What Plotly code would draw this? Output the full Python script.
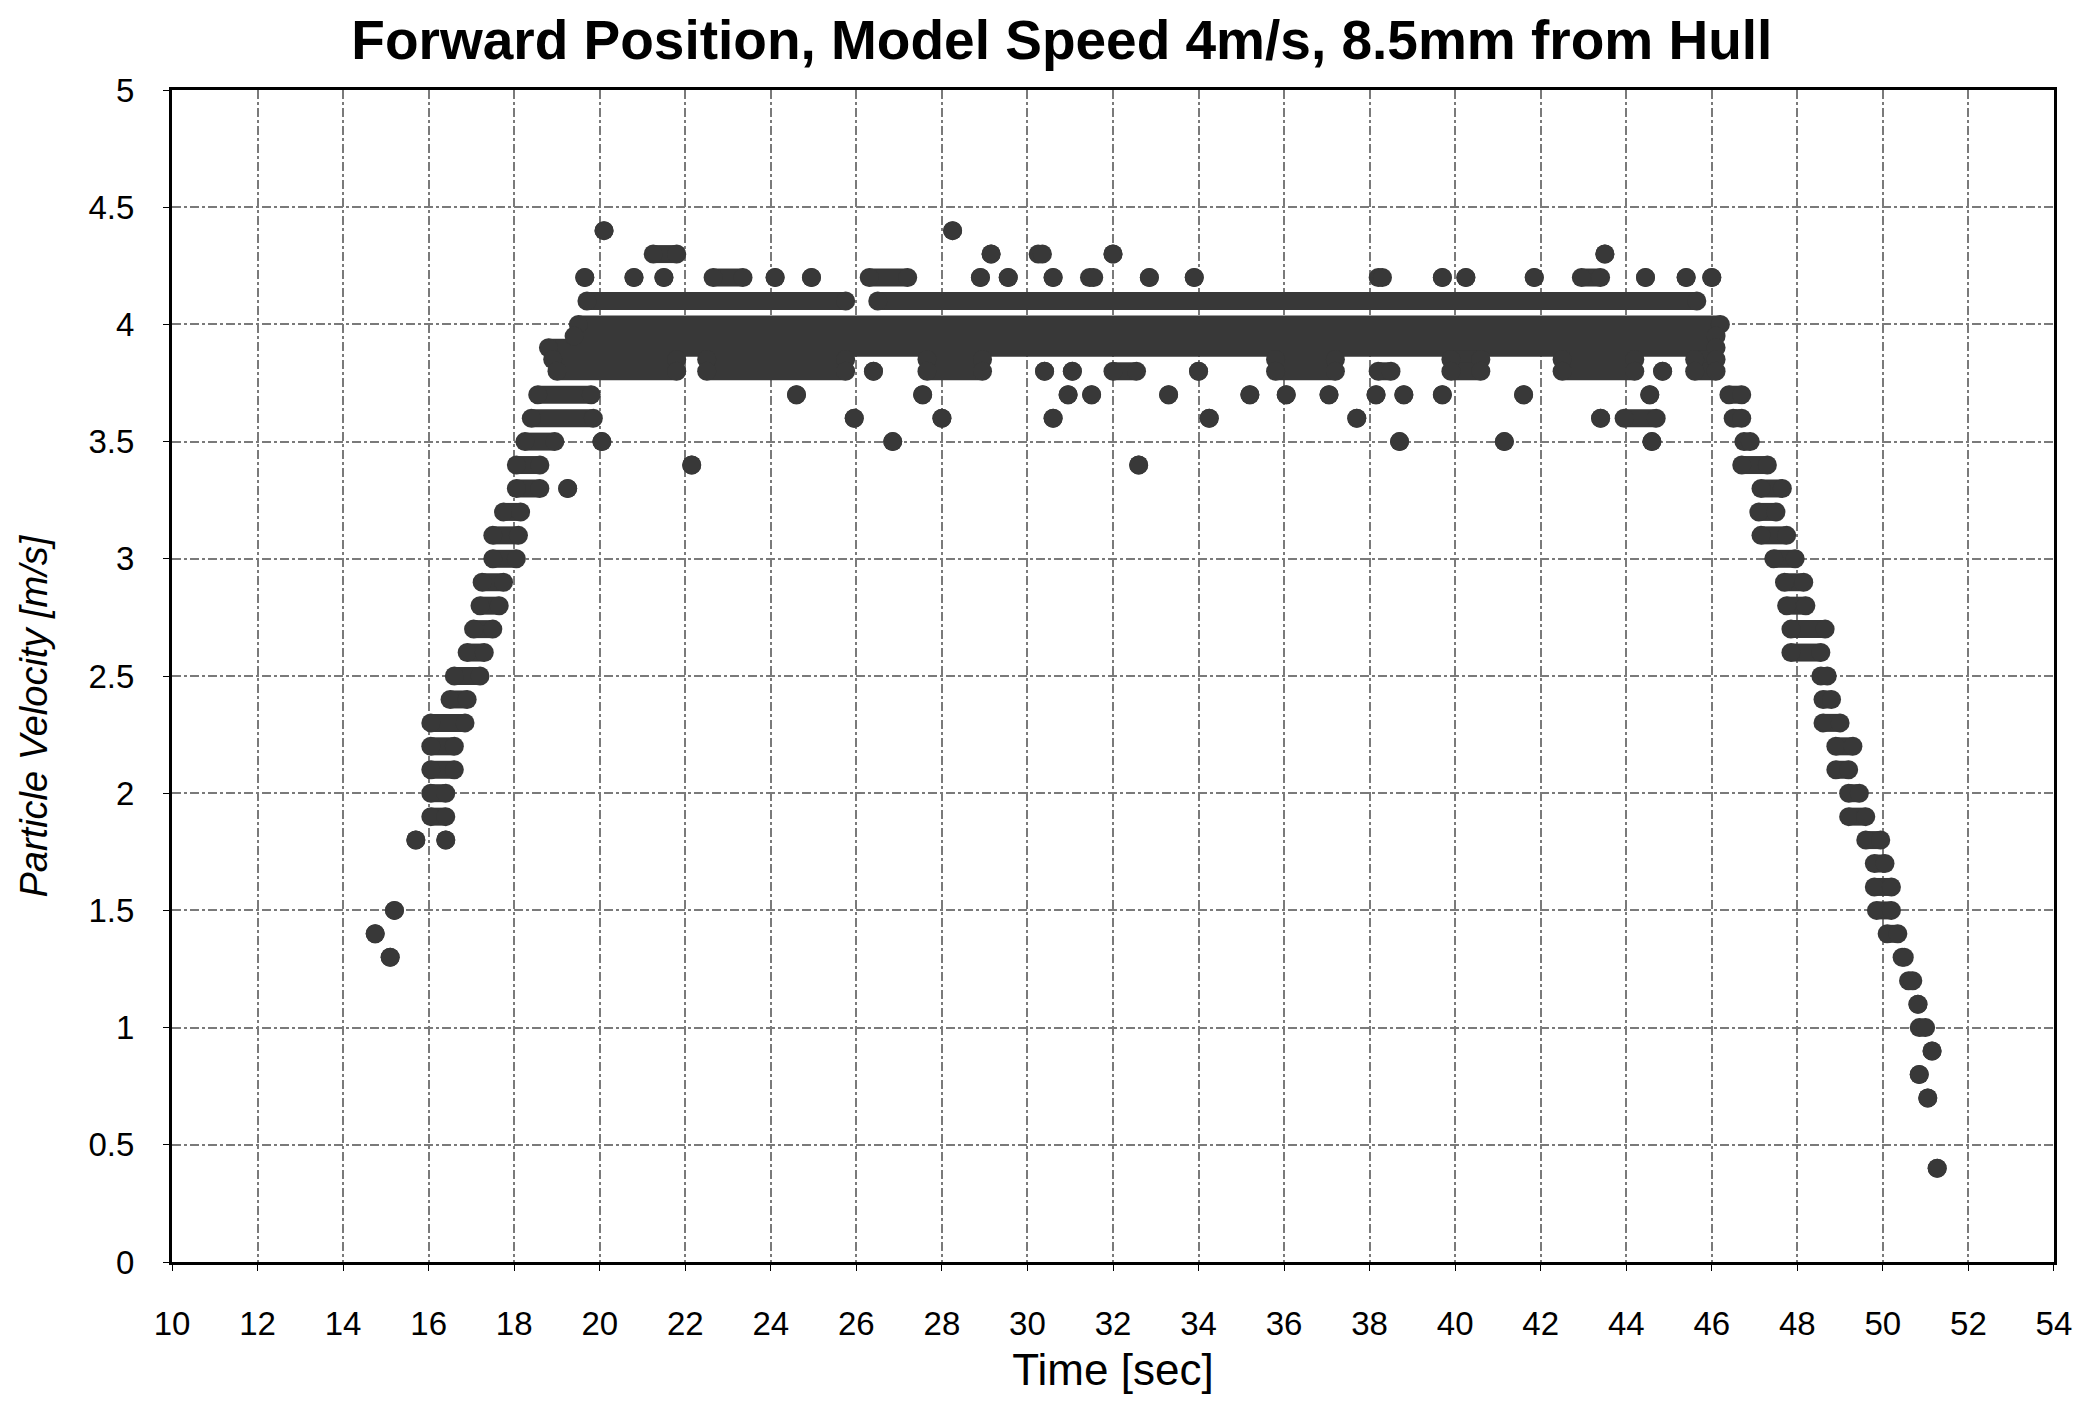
import plotly.graph_objects as go

# ---- axis ticks ----
x_ticks = list(range(10, 56, 2))
y_ticks = [0, 0.5, 1, 1.5, 2, 2.5, 3, 3.5, 4, 4.5, 5]
y_tick_labels = ["0", "0.5", "1", "1.5", "2", "2.5", "3", "3.5", "4", "4.5", "5"]

# ---- data: for each velocity level (m/s), runs of time (s) where samples sit on that level.
# (t, t) is a single sample; (t0, t1) is a run of closely spaced samples.
v44 = [(20.1, 20.1), (28.25, 28.25)]
v43 = [(21.25, 21.8), (29.15, 29.15), (30.25, 30.35), (32.0, 32.0), (43.5, 43.5)]
v42 = [(19.65, 19.65), (20.8, 20.8), (21.5, 21.5), (22.65, 23.35), (24.1, 24.1), (24.95, 24.95),
       (26.3, 27.2), (28.9, 28.9), (29.55, 29.55), (30.6, 30.6), (31.45, 31.55), (32.85, 32.85),
       (33.9, 33.9), (38.2, 38.3), (39.7, 39.7), (40.25, 40.25), (41.85, 41.85), (42.95, 43.4),
       (44.45, 44.45), (45.4, 45.4), (46.0, 46.0)]
v41 = [(19.7, 25.75), (26.5, 45.65)]
v40 = [(19.5, 46.2)]
v395 = [(19.4, 46.1)]
v39 = [(18.8, 46.1)]
v385 = [(18.9, 21.8), (22.5, 25.75), (27.65, 28.95), (35.8, 37.2), (39.9, 40.6), (42.5, 44.2),
        (45.6, 46.1)]
v38 = [(19.0, 21.8), (22.5, 25.75), (26.4, 26.4), (27.65, 28.95), (30.4, 30.4), (31.05, 31.05),
       (32.0, 32.55), (34.0, 34.0), (35.8, 37.2), (38.2, 38.5), (39.9, 40.6), (42.5, 44.2),
       (44.85, 44.85), (45.6, 46.1)]
v37 = [(18.55, 19.8), (24.6, 24.6), (27.55, 27.55), (30.95, 30.95), (31.5, 31.5), (33.3, 33.3),
       (35.2, 35.2), (36.05, 36.05), (37.05, 37.05), (38.15, 38.15), (38.8, 38.8), (39.7, 39.7),
       (41.6, 41.6), (44.55, 44.55), (46.4, 46.7)]
v36 = [(18.4, 19.85), (25.95, 25.95), (28.0, 28.0), (30.6, 30.6), (34.25, 34.25), (37.7, 37.7),
       (43.4, 43.4), (43.95, 44.7), (46.5, 46.7)]
v35 = [(18.25, 18.95), (20.05, 20.05), (26.85, 26.85), (38.7, 38.7), (41.15, 41.15), (44.6, 44.6),
       (46.75, 46.9)]
v34 = [(18.05, 18.6), (22.15, 22.15), (32.6, 32.6), (46.7, 47.3)]
v33 = [(18.05, 18.6), (19.25, 19.25), (47.15, 47.65)]
v32 = [(17.75, 18.15), (47.1, 47.5)]
v31 = [(17.5, 18.1), (47.15, 47.75)]
v30 = [(17.5, 18.05), (47.45, 47.95)]
v29 = [(17.25, 17.75), (47.7, 48.15)]
v28 = [(17.2, 17.65), (47.75, 48.2)]
v27 = [(17.05, 17.5), (47.85, 48.65)]
v26 = [(16.9, 17.3), (47.85, 48.55)]
v25 = [(16.6, 17.2), (48.55, 48.7)]
v24 = [(16.5, 16.9), (48.6, 48.8)]
v23 = [(16.05, 16.85), (48.6, 49.0)]
v22 = [(16.05, 16.6), (48.9, 49.3)]
v21 = [(16.05, 16.6), (48.9, 49.2)]
v20 = [(16.05, 16.4), (49.2, 49.45)]
v19 = [(16.05, 16.4), (49.2, 49.6)]
v18 = [(15.7, 15.7), (16.4, 16.4), (49.6, 49.95)]
v17 = [(49.8, 50.05)]
v16 = [(49.8, 50.2)]
v15 = [(15.2, 15.2), (49.85, 50.2)]
v14 = [(14.75, 14.75), (50.1, 50.35)]
v13 = [(15.1, 15.1), (50.45, 50.5)]
v12 = [(50.6, 50.7)]
v11 = [(50.82, 50.82)]
v10 = [(50.85, 51.0)]
v09 = [(51.15, 51.15)]
v08 = [(50.85, 50.85)]
v07 = [(51.05, 51.05)]
v04 = [(51.27, 51.27)]

levels = [(4.4, v44), (4.3, v43), (4.2, v42), (4.1, v41), (4.0, v40), (3.95, v395), (3.9, v39),
          (3.85, v385), (3.8, v38), (3.7, v37), (3.6, v36), (3.5, v35), (3.4, v34), (3.3, v33),
          (3.2, v32), (3.1, v31), (3.0, v30), (2.9, v29), (2.8, v28), (2.7, v27), (2.6, v26),
          (2.5, v25), (2.4, v24), (2.3, v23), (2.2, v22), (2.1, v21), (2.0, v20), (1.9, v19),
          (1.8, v18), (1.7, v17), (1.6, v16), (1.5, v15), (1.4, v14), (1.3, v13), (1.2, v12),
          (1.1, v11), (1.0, v10), (0.9, v09), (0.8, v08), (0.7, v07), (0.4, v04)]

xs, ys = [], []
for level, runs in levels:
    for t0, t1 in runs:
        xs += [t0, t1, None]
        ys += [level, level, None]

mark_color = "#383838"
fig = go.Figure()
fig.add_trace(go.Scatter(
    x=xs, y=ys, mode="lines+markers",
    line=dict(color=mark_color, width=18),
    marker=dict(color=mark_color, size=19, symbol="circle"),
    showlegend=False, hoverinfo="skip",
))

font_family = "Liberation Sans, Arial, sans-serif"
grid = dict(showgrid=True, gridcolor="#7a7a7a", gridwidth=1.5, griddash="dashdot")
axis_common = dict(showline=True, linecolor="black", linewidth=3, mirror=True, zeroline=False,
                   ticks="outside", ticklen=6, tickcolor="black", automargin=False,
                   tickfont=dict(family=font_family, size=33, color="black"))

fig.update_layout(
    width=2078, height=1410,
    margin=dict(l=172, r=24, t=90, b=148, autoexpand=False),
    paper_bgcolor="white", plot_bgcolor="white",
    title=dict(text="<b>Forward Position, Model Speed 4m/s, 8.5mm from Hull</b>",
               x=0.511, xanchor="center", xref="container",
               y=1 - 40 / 1410, yanchor="middle", yref="container",
               font=dict(family=font_family, size=55, color="black")),
    xaxis=dict(range=[9.999, 54.001], tickvals=x_ticks, ticktext=[str(v) for v in x_ticks],
               title=dict(text="Time [sec]", standoff=14,
                          font=dict(family=font_family, size=44, color="black")),
               ticklabelstandoff=24, ticklabeloverflow="allow", **grid, **axis_common),
    yaxis=dict(range=[0, 5], tickvals=y_ticks, ticktext=y_tick_labels,
               ticklabelstandoff=22, **grid, **axis_common),
    annotations=[dict(text="<i>Particle Velocity [m/s]</i>", textangle=-90,
                      xref="paper", yref="paper", x=-0.0735, y=0.466,
                      xanchor="center", yanchor="middle", showarrow=False,
                      font=dict(family=font_family, size=38, color="black"))],
)

fig.write_html("out.html", config={"displayModeBar": False},
               post_script="document.body.style.margin='0';")
